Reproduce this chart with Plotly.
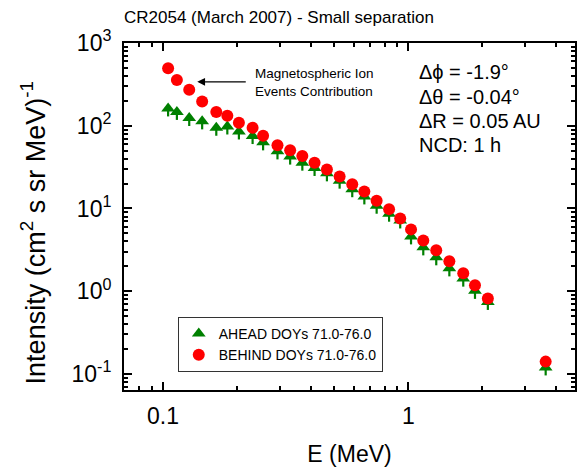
import numpy as np
import plotly.graph_objects as go

energy = [0.105, 0.114, 0.128, 0.1445, 0.165, 0.183, 0.204, 0.232, 0.256, 0.293,
          0.330, 0.370, 0.415, 0.466, 0.525, 0.591, 0.662, 0.743, 0.835, 0.927,
          1.026, 1.151, 1.30, 1.47, 1.675, 1.87, 2.11, 3.63]
behind = [496, 358, 272, 196, 147, 132, 109, 94.6, 75.8, 58.0,
          50.4, 43.1, 35.8, 29.5, 24.3, 19.6, 16.0, 12.4, 9.82, 7.59,
          5.59, 4.11, 3.12, 2.30, 1.65, 1.18, 0.816, 0.141]
ahead = [162, 147, 124, 113, 94.6, 98, 85.3, 75.1, 63, 49,
         42.4, 35.8, 30.9, 26.6, 21.7, 17.1, 14.0, 10.8, 8.65, 7.17,
         4.60, 3.39, 2.57, 1.89, 1.42, 1.01, 0.743, 0.12]

x_ticks = [0.1, 1]
x_ticktext = ["0.1", "1"]
x_minor = [0.07, 0.08, 0.09, 0.2, 0.3, 0.4, 0.5, 0.6, 0.7, 0.8, 0.9, 2, 3, 4]
y_ticks = [0.1, 1, 10, 100, 1000]
y_ticktext = ["10<sup>-1</sup>", "10<sup>0</sup>", "10<sup>1</sup>", "10<sup>2</sup>", "10<sup>3</sup>"]
y_minor = [m * 10.0 ** e for e in range(-2, 3) for m in range(2, 10)]
y_minor = [v for v in y_minor if 0.064 < v < 1000]

info_lines = ["\u0394\u03d5 = -1.9\u00b0", "\u0394\u03b8 = -0.04\u00b0", "\u0394R = 0.05 AU", "NCD: 1 h"]

FONT = "Arial, Liberation Sans, sans-serif"

fig = go.Figure()
fig.add_trace(go.Scatter(
    x=energy, y=ahead, mode="markers", name="AHEAD DOYs 71.0-76.0",
    marker=dict(symbol="triangle-up", size=12, color="#008000"),
    error_y=dict(type="percent", symmetric=False, value=0, valueminus=20,
                 color="#008000", thickness=2.2, width=0),
))
fig.add_trace(go.Scatter(
    x=energy, y=behind, mode="markers", name="BEHIND DOYs 71.0-76.0",
    marker=dict(symbol="circle", size=12, color="#ff0000"),
))

axis_common = dict(
    type="log", showgrid=False, zeroline=False, showline=True, linecolor="black",
    linewidth=2, mirror="allticks", ticks="inside", ticklen=8, tickwidth=1.5,
    tickcolor="black", tickfont=dict(family=FONT, size=23, color="black"),
)

fig.update_xaxes(
    **axis_common,
    range=[np.log10(0.0694), np.log10(4.78)],
    tickmode="array", tickvals=x_ticks, ticktext=x_ticktext,
    minor=dict(tickmode="array", tickvals=x_minor, ticks="inside", ticklen=4,
               tickwidth=1.5, tickcolor="black"),
    title=dict(text="E (MeV)", font=dict(family=FONT, size=23, color="black"), standoff=18),
    ticklabelstandoff=4,
)
fig.update_yaxes(
    **axis_common,
    range=[np.log10(0.064), 3.0],
    tickmode="array", tickvals=y_ticks, ticktext=y_ticktext,
    minor=dict(tickmode="array", tickvals=y_minor, ticks="inside", ticklen=4,
               tickwidth=1.5, tickcolor="black"),
    ticklabelstandoff=6,
)

# y-axis title as rotated annotation
fig.add_annotation(x=(33 - 124) / 453, y=(390 - 233) / 347, xref="paper", yref="paper",
                   xanchor="center", yanchor="middle", textangle=-90, showarrow=False,
                   text="Intensity (cm<sup>2</sup> s sr MeV)<sup>-1</sup>",
                   font=dict(family=FONT, size=27, color="black"))

# arrow
fig.add_annotation(x=np.log10(0.138), y=np.log10(339), xref="x", yref="y",
                   text="", showarrow=True, ax=50, ay=0, arrowhead=2, arrowsize=1.2,
                   arrowwidth=1.3, arrowcolor="black")
fig.add_annotation(x=0.285, y=0.885, xref="paper", yref="paper", xanchor="left",
                   yanchor="middle", align="left", showarrow=False,
                   text="Magnetospheric Ion<br>Events Contribution",
                   font=dict(family=FONT, size=13.5, color="black"))

info_y = [72, 96.5, 120.5, 145]
for txt, py in zip(info_lines, info_y):
    fig.add_annotation(x=(418 - 124) / 453, y=(390 - py) / 347, xref="paper", yref="paper",
                       xanchor="left", yanchor="middle", showarrow=False, text=txt,
                       font=dict(family=FONT, size=20, color="black"))

fig.update_layout(
    width=579, height=471,
    margin=dict(l=124, r=2, t=43, b=81),
    paper_bgcolor="white", plot_bgcolor="white",
    title=dict(text="CR2054 (March 2007) - Small separation", xref="paper", x=0,
               xanchor="left", yref="container", y=1 - 17 / 471, yanchor="middle",
               font=dict(family=FONT, size=17, color="black")),
    legend=dict(x=(178 - 124) / 453, y=(390 - 317) / 347, xanchor="left", yanchor="top",
                bgcolor="white", bordercolor="#333333", borderwidth=1,
                font=dict(family=FONT, size=14, color="black"),
                tracegroupgap=0, itemwidth=30),
    showlegend=True,
)

fig.write_html("out.html")
